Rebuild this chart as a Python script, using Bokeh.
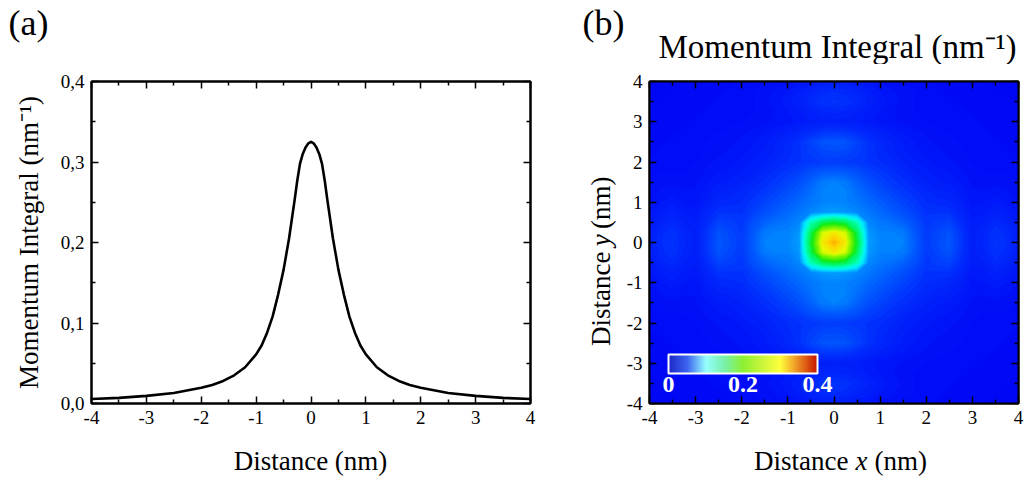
import numpy as np
from bokeh.plotting import figure
from bokeh.layouts import row, column
from bokeh.models import (LinearAxis, FixedTicker, CustomJSTickFormatter,
                          LinearColorMapper, ColorBar, Label, Range1d)
from bokeh.embed import file_html
from bokeh.resources import INLINE

FONT = "Liberation Serif"

# ---------------------------------------------------------------- data
# Panel (a): momentum integral along a line through the centre (symmetric)
profile_x = [0.0, 0.05, 0.1, 0.15, 0.2, 0.25, 0.3, 0.4, 0.5, 0.6, 0.7, 0.8,
             0.9, 1.0, 1.2, 1.4, 1.6, 1.8, 2.0, 2.5, 3.0, 3.5, 4.0]
profile_y = [0.325, 0.323, 0.318, 0.310, 0.298, 0.277, 0.252, 0.205, 0.166,
             0.135, 0.108, 0.088, 0.072, 0.061, 0.045, 0.035, 0.028, 0.023,
             0.0195, 0.013, 0.0095, 0.007, 0.0055]

# Panel (b): one quadrant of the 2D map (x, y = 0 .. 4 nm, step 0.25 nm);
# rows are y, columns are x.  The full map is its mirror image.
grid_step = 0.25
quadrant = [
    [0.330, 0.295, 0.180, 0.068, 0.060, 0.060, 0.058, 0.046, 0.036, 0.040, 0.044, 0.034, 0.024, 0.028, 0.033, 0.030, 0.024],
    [0.295, 0.272, 0.165, 0.066, 0.058, 0.058, 0.056, 0.045, 0.035, 0.039, 0.043, 0.033, 0.024, 0.027, 0.032, 0.029, 0.023],
    [0.180, 0.165, 0.128, 0.060, 0.055, 0.052, 0.048, 0.042, 0.034, 0.036, 0.038, 0.030, 0.023, 0.025, 0.029, 0.026, 0.021],
    [0.068, 0.066, 0.060, 0.055, 0.050, 0.046, 0.042, 0.037, 0.032, 0.032, 0.032, 0.027, 0.021, 0.022, 0.025, 0.023, 0.019],
    [0.060, 0.058, 0.055, 0.050, 0.046, 0.042, 0.038, 0.034, 0.030, 0.029, 0.028, 0.024, 0.019, 0.020, 0.022, 0.020, 0.017],
    [0.060, 0.058, 0.052, 0.046, 0.042, 0.038, 0.034, 0.031, 0.028, 0.026, 0.025, 0.022, 0.018, 0.018, 0.019, 0.018, 0.016],
    [0.058, 0.056, 0.048, 0.042, 0.038, 0.034, 0.031, 0.028, 0.025, 0.023, 0.022, 0.020, 0.017, 0.016, 0.017, 0.016, 0.015],
    [0.046, 0.045, 0.042, 0.037, 0.034, 0.031, 0.028, 0.025, 0.023, 0.021, 0.020, 0.018, 0.016, 0.015, 0.015, 0.015, 0.014],
    [0.036, 0.035, 0.034, 0.032, 0.030, 0.028, 0.025, 0.023, 0.021, 0.019, 0.018, 0.017, 0.015, 0.014, 0.014, 0.014, 0.013],
    [0.040, 0.039, 0.036, 0.032, 0.029, 0.026, 0.023, 0.021, 0.019, 0.018, 0.017, 0.016, 0.014, 0.014, 0.013, 0.013, 0.012],
    [0.044, 0.043, 0.038, 0.032, 0.028, 0.025, 0.022, 0.020, 0.018, 0.017, 0.016, 0.015, 0.014, 0.013, 0.013, 0.012, 0.012],
    [0.034, 0.033, 0.030, 0.027, 0.024, 0.022, 0.020, 0.018, 0.017, 0.016, 0.015, 0.014, 0.013, 0.013, 0.012, 0.012, 0.011],
    [0.024, 0.024, 0.023, 0.021, 0.019, 0.018, 0.017, 0.016, 0.015, 0.014, 0.014, 0.013, 0.013, 0.012, 0.012, 0.011, 0.011],
    [0.028, 0.027, 0.025, 0.022, 0.020, 0.018, 0.016, 0.015, 0.014, 0.014, 0.013, 0.013, 0.012, 0.012, 0.011, 0.011, 0.010],
    [0.033, 0.032, 0.029, 0.025, 0.022, 0.019, 0.017, 0.015, 0.014, 0.013, 0.013, 0.012, 0.012, 0.011, 0.011, 0.010, 0.010],
    [0.030, 0.029, 0.026, 0.023, 0.020, 0.018, 0.016, 0.015, 0.014, 0.013, 0.012, 0.012, 0.011, 0.011, 0.010, 0.010, 0.010],
    [0.024, 0.023, 0.021, 0.019, 0.017, 0.016, 0.015, 0.014, 0.013, 0.012, 0.012, 0.011, 0.011, 0.010, 0.010, 0.010, 0.009],
]

x_ticks = [-4, -3, -2, -1, 0, 1, 2, 3, 4]
x_minor = [-3.5, -2.5, -1.5, -0.5, 0.5, 1.5, 2.5, 3.5]
a_y_ticks = [0.0, 0.1, 0.2, 0.3, 0.4]
a_y_minor = [0.05, 0.15, 0.25, 0.35]
bar_ticks = [0.0, 0.2, 0.4]

# colour stops (value, r, g, b) for the map and for the inset colour bar
map_stops = [(0.00, 0, 0, 240), (0.015, 0, 12, 248), (0.03, 0, 42, 252),
             (0.045, 0, 88, 255), (0.06, 0, 135, 255), (0.08, 0, 190, 255),
             (0.10, 0, 240, 250), (0.12, 0, 255, 200), (0.15, 0, 248, 120),
             (0.19, 20, 235, 20), (0.24, 130, 245, 0), (0.28, 230, 250, 0),
             (0.31, 255, 210, 0), (0.34, 255, 150, 0), (0.37, 240, 80, 0),
             (0.40, 200, 20, 0)]
bar_stops = [(0.00, 30, 40, 200), (0.05, 60, 100, 240), (0.10, 150, 255, 255),
             (0.15, 120, 240, 170), (0.20, 140, 240, 50), (0.25, 200, 245, 60),
             (0.30, 255, 255, 60), (0.34, 240, 160, 40), (0.40, 200, 20, 0)]


def colours_at(stops, t):
    vals = np.array([s[0] for s in stops])
    rgb = np.array([s[1:] for s in stops], dtype=float)
    chans = [np.interp(t, vals, rgb[:, k]) for k in range(3)]
    return ["#%02x%02x%02x" % (int(round(r)), int(round(g)), int(round(b)))
            for r, g, b in zip(*chans)]


def style_axis(ax, ticker, labelled=True):
    ax.ticker = ticker
    ax.axis_line_width = 2
    ax.axis_line_color = "black"
    ax.major_tick_in = 7
    ax.major_tick_out = 0
    ax.minor_tick_in = 4
    ax.minor_tick_out = 0
    ax.major_tick_line_width = 1.5
    ax.minor_tick_line_width = 1.5
    ax.major_tick_line_color = "black"
    ax.minor_tick_line_color = "black"
    ax.major_label_text_font = FONT
    ax.major_label_text_color = "black"
    ax.axis_label_text_font = FONT
    ax.axis_label_text_font_size = "27px"
    ax.axis_label_text_font_style = "normal"
    ax.axis_label_text_color = "black"
    if labelled:
        ax.major_label_text_font_size = "19px"
        ax.major_label_standoff = 7
    else:
        ax.formatter = CustomJSTickFormatter(code="return ''")
        ax.major_label_text_font_size = "0px"
        ax.major_label_standoff = 0


def text_label(x, y, text, size="27px", style="normal", align="left", angle=0):
    return Label(x=x, y=y, text=text, text_font=FONT, text_font_size=size,
                 text_font_style=style, text_color="black", text_align=align,
                 text_baseline="middle", angle=angle, angle_units="deg")


def strip(x0, x1, y0, y1):
    """Blank figure whose data coordinates are page pixels (y downwards)."""
    f = figure(width=x1 - x0, height=y1 - y0, x_range=Range1d(x0, x1),
               y_range=Range1d(y1, y0), x_axis_type=None, y_axis_type=None,
               output_backend="svg", toolbar_location=None,
               min_border=0, outline_line_color=None)
    f.grid.grid_line_color = None
    return f


int_fmt = CustomJSTickFormatter(code="return tick.toFixed(0)")
comma_fmt = CustomJSTickFormatter(code="return tick.toFixed(1).replace('.', ',')")

W, H = 1030, 478
HEAD_B = 64      # bottom of the heading strip
MID_B = 435      # bottom of the panel row
SPLIT_A = 560    # right edge of panel (a)
SPLIT_B = 622    # left edge of panel (b)

# ---------------------------------------------------------------- heading strip
head = strip(0, W, 0, HEAD_B)
head.add_layout(text_label(8, 22, "(a)", size="36px"))
head.add_layout(text_label(582, 22, "(b)", size="36px"))
head.add_layout(text_label(837, 46, "Momentum Integral (nm\u207b\u00b9)",
                           size="33px", align="center"))

# ---------------------------------------------------------------- axis titles
foot = strip(0, W, MID_B, H)
foot.add_layout(text_label(310, 460, "Distance (nm)", align="center"))
foot.add_layout(text_label(848, 460, "Distance", align="right"))
foot.add_layout(text_label(861, 460, "x", style="italic", align="center"))
foot.add_layout(text_label(874, 460, "(nm)", align="left"))

yside = strip(SPLIT_A, SPLIT_B, HEAD_B, MID_B)
yside.add_layout(text_label(600, 260, "Distance", align="right", angle=90))
yside.add_layout(text_label(600, 247, "y", style="italic", align="center", angle=90))
yside.add_layout(text_label(600, 234, "(nm)", align="left", angle=90))

# ---------------------------------------------------------------- panel (a)
line_x = [-v for v in profile_x[:0:-1]] + profile_x
line_y = profile_y[:0:-1] + profile_y

pa = figure(width=SPLIT_A, height=MID_B - HEAD_B, x_range=(-4, 4),
            y_range=(0, 0.4), output_backend="svg", toolbar_location=None,
            min_border_left=91, min_border_right=30,
            min_border_top=81 - HEAD_B, min_border_bottom=MID_B - 403)
pa.grid.grid_line_color = None
pa.outline_line_color = "black"
pa.outline_line_width = 2
pa.line(line_x, line_y, line_width=2.6, line_color="black", line_join="round")

style_axis(pa.xaxis[0], FixedTicker(ticks=x_ticks, minor_ticks=x_minor))
pa.xaxis[0].formatter = int_fmt
style_axis(pa.yaxis[0], FixedTicker(ticks=a_y_ticks, minor_ticks=a_y_minor))
pa.yaxis[0].formatter = comma_fmt
pa.yaxis[0].axis_label = "Momentum Integral (nm\u207b\u00b9)"
pa.yaxis[0].axis_label_standoff = 14

top_a = LinearAxis()
style_axis(top_a, FixedTicker(ticks=x_ticks, minor_ticks=x_minor), labelled=False)
pa.add_layout(top_a, "above")
right_a = LinearAxis()
style_axis(right_a, FixedTicker(ticks=a_y_ticks, minor_ticks=a_y_minor), labelled=False)
pa.add_layout(right_a, "right")

# ---------------------------------------------------------------- panel (b)
q = np.array(quadrant)
half = np.concatenate([q[:, :0:-1], q], axis=1)
field = np.concatenate([half[:0:-1, :], half], axis=0)
n_half = q.shape[0] - 1
coords = np.arange(-n_half, n_half + 1) * grid_step
gx, gy = np.meshgrid(coords, coords)

# filled regions above each level, stacked from low to high so that no seams
# appear between neighbouring bands
levels = list(np.round(np.arange(0.0, 0.1, 0.0025), 4)) + \
         list(np.round(np.arange(0.1, 0.36, 0.005), 4))
level_colours = colours_at(map_stops, [lv + 0.00125 for lv in levels])
field_top = 0.5

pb = figure(width=W - SPLIT_B, height=MID_B - HEAD_B, x_range=(-4, 4),
            y_range=(-4, 4), output_backend="svg", toolbar_location=None,
            min_border_left=649 - SPLIT_B, min_border_right=12,
            min_border_top=80 - HEAD_B, min_border_bottom=MID_B - 403)
pb.grid.grid_line_color = None
pb.outline_line_color = "black"
pb.outline_line_width = 2
pb.background_fill_color = level_colours[0]

for lv, col in zip(levels, level_colours):
    if lv >= field.max():
        break
    pb.contour(gx, gy, field, levels=[lv, field_top], fill_color=[col],
               line_color=None)

style_axis(pb.xaxis[0], FixedTicker(ticks=x_ticks, minor_ticks=x_minor))
pb.xaxis[0].formatter = int_fmt
style_axis(pb.yaxis[0], FixedTicker(ticks=x_ticks, minor_ticks=x_minor))
pb.yaxis[0].formatter = int_fmt

top_b = LinearAxis()
style_axis(top_b, FixedTicker(ticks=x_ticks, minor_ticks=x_minor), labelled=False)
pb.add_layout(top_b, "above")
right_b = LinearAxis()
style_axis(right_b, FixedTicker(ticks=x_ticks, minor_ticks=x_minor), labelled=False)
pb.add_layout(right_b, "right")

bar_mapper = LinearColorMapper(palette=colours_at(bar_stops, np.linspace(0, 0.4, 256)),
                               low=0, high=0.4)
cbar = ColorBar(color_mapper=bar_mapper, orientation="horizontal",
                location=(19, 9), width=149, height=19, padding=0, margin=0,
                ticker=FixedTicker(ticks=bar_ticks),
                formatter=CustomJSTickFormatter(code="return tick == 0 ? '0' : tick.toFixed(1)"),
                major_label_text_color="white", major_label_text_font=FONT,
                major_label_text_font_size="24px",
                major_label_text_font_style="bold",
                major_tick_line_color=None, minor_tick_line_color=None,
                bar_line_color="white", bar_line_width=2,
                background_fill_alpha=0, border_line_color=None,
                label_standoff=3)
pb.add_layout(cbar)

layout = column(head, row(pa, yside, pb), foot)
open("out.html", "w").write(file_html(layout, INLINE))
